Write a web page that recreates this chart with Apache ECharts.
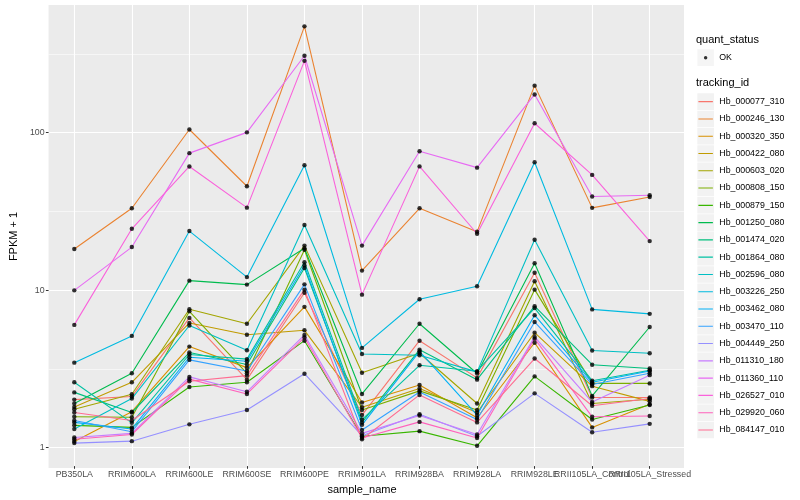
<!DOCTYPE html>
<html>
<head>
<meta charset="utf-8">
<script src="https://cdn.jsdelivr.net/npm/echarts@6/dist/echarts.min.js"></script>
<style>html,body{margin:0;padding:0;background:#fff}#c{width:800px;height:500px}</style>
</head>
<body>
<div id="c"></div>
<script>
const categories = ['PB350LA','RRIM600LA','RRIM600LE','RRIM600SE','RRIM600PE','RRIM901LA','RRIM928BA','RRIM928LA','RRIM928LE','RRII105LA_Control','RRII105LA_Stressed'];

const Hb_000077_310 = [1.97, 2.06, 6.54, 2.64, 9.45, 1.57, 4.68, 2.71, 12.7, 2.03, 2.03];
const Hb_000246_130 = [18.0, 32.7, 104, 45.2, 473, 13.1, 32.7, 23.2, 198, 32.9, 38.6];
const Hb_000320_350 = [1.065, 1.65, 4.29, 3.15, 7.69, 1.89, 2.44, 1.51, 4.54, 1.31, 1.84];
const Hb_000422_080 = [1.77, 2.54, 6.07, 5.11, 5.45, 1.76, 2.32, 1.63, 5.26, 2.4, 1.92];
const Hb_000603_020 = [1.71, 2.13, 7.42, 6.0, 18.9, 2.92, 3.89, 1.86, 11.2, 1.86, 1.98];
const Hb_000808_150 = [1.53, 1.52, 7.2, 2.90, 17.8, 1.69, 2.24, 1.69, 9.9, 2.5, 2.50];
const Hb_000879_150 = [1.35, 1.31, 2.37, 2.54, 4.68, 1.15, 1.24, 1.00, 2.77, 1.47, 1.82];
const Hb_001250_080 = [1.86, 2.9, 11.3, 10.66, 18.2, 2.14, 6.0, 2.89, 14.6, 2.08, 5.72];
const Hb_001474_020 = [2.19, 1.63, 3.93, 3.3, 13.6, 1.41, 4.1, 2.64, 7.77, 3.29, 3.11];
const Hb_001864_080 = [2.54, 1.40, 3.82, 3.57, 14.8, 1.47, 3.26, 2.99, 7.55, 2.60, 3.03];
const Hb_002596_080 = [1.28, 2.0, 5.85, 4.07, 25.6, 3.85, 3.78, 2.96, 20.6, 4.05, 3.89];
const Hb_003226_250 = [3.39, 5.02, 23.4, 11.9, 61.5, 4.21, 8.6, 10.4, 64.3, 7.41, 6.94];
const Hb_003462_080 = [1.41, 1.28, 3.67, 3.46, 14.1, 1.36, 4.0, 1.57, 6.8, 2.54, 3.0];
const Hb_003470_110 = [1.45, 1.23, 3.53, 3.0, 10.7, 1.26, 2.2, 1.47, 6.16, 2.46, 2.9];
const Hb_004449_250 = [1.04, 1.07, 1.37, 1.69, 2.88, 1.16, 1.59, 1.15, 2.16, 1.22, 1.38];
const Hb_011310_180 = [1.13, 1.20, 2.75, 2.21, 5.09, 1.20, 1.56, 1.18, 4.95, 1.9, 2.82];
const Hb_011360_110 = [9.8, 18.5, 73.5, 99.7, 307, 18.9, 75.5, 59.4, 174, 38.9, 39.6];
const Hb_026527_010 = [5.9, 24.2, 60.4, 33.0, 285, 9.2, 60.5, 22.5, 114, 53.4, 20.2];
const Hb_029920_060 = [1.10, 1.18, 2.66, 2.14, 4.91, 1.12, 1.42, 1.12, 4.82, 1.53, 1.55];
const Hb_084147_010 = [1.63, 1.45, 2.58, 2.80, 9.9, 1.10, 2.11, 1.41, 3.6, 1.80, 2.0];

const trackingIds = ['Hb_000077_310','Hb_000246_130','Hb_000320_350','Hb_000422_080','Hb_000603_020','Hb_000808_150','Hb_000879_150','Hb_001250_080','Hb_001474_020','Hb_001864_080','Hb_002596_080','Hb_003226_250','Hb_003462_080','Hb_003470_110','Hb_004449_250','Hb_011310_180','Hb_011360_110','Hb_026527_010','Hb_029920_060','Hb_084147_010'];
const seriesValues = [Hb_000077_310,Hb_000246_130,Hb_000320_350,Hb_000422_080,Hb_000603_020,Hb_000808_150,Hb_000879_150,Hb_001250_080,Hb_001474_020,Hb_001864_080,Hb_002596_080,Hb_003226_250,Hb_003462_080,Hb_003470_110,Hb_004449_250,Hb_011310_180,Hb_011360_110,Hb_026527_010,Hb_029920_060,Hb_084147_010];
const colors = ['#F8766D','#EA8331','#D89000','#C09B00','#A3A500','#7CAE00','#39B600','#00BB4E','#00BF7D','#00C1A3','#00BFC4','#00BAE0','#00B0F6','#35A2FF','#9590FF','#C77CFF','#E76BF3','#FA62DB','#FF62BC','#FF6C91'];

const majorBreaks = [1, 10, 100];
const minorBreaks = [3.162, 31.62, 316.2];
const yMin = 0.742, yMax = 647;

const FONT = 'Liberation Sans, Arial, sans-serif';

const series = trackingIds.map((id, k) => ({
  name: id,
  type: 'line',
  xAxisIndex: 1,
  yAxisIndex: 2,
  data: seriesValues[k],
  showSymbol: false,
  symbol: 'none',
  color: colors[k],
  lineStyle: { width: 1.1, color: colors[k] },
  emphasis: { disabled: true },
  z: 3
}));

const okPoints = [];
seriesValues.forEach(vals => vals.forEach((v, i) => okPoints.push([i, v])));
series.push({
  name: 'OK',
  type: 'scatter',
  xAxisIndex: 1,
  yAxisIndex: 2,
  data: okPoints,
  symbol: 'circle',
  symbolSize: 4.4,
  color: '#000',
  itemStyle: { color: '#000' },
  emphasis: { disabled: true },
  z: 5
});

const keyBg = 'path://M0,0L0.01,0Z M0.35,0.35L16.93,0.35L16.93,16.93L0.35,16.93Z M17.28,17.28L17.27,17.28Z';
const keyLine = 'path://M0,0L0.01,0Z M1.4,8.1L15.88,8.1L15.88,9.2L1.4,9.2Z M17.28,17.28L17.27,17.28Z';
const keyDot = 'path://M0,0L0.01,0Z M6.9,8.64A1.74,1.74,0,1,1,10.38,8.64A1.74,1.74,0,1,1,6.9,8.64Z M17.28,17.28L17.27,17.28Z';

const legendText = { fontSize: 8.8, color: '#000', fontFamily: FONT };
const hiddenText = Object.assign({}, legendText, { color: 'rgba(0,0,0,0)' });

function keyLegend(names, top, icon, itemStyle, textStyle, z) {
  return { data: names, left: 697, top: top, orient: 'vertical', padding: 0, itemGap: 0,
    itemWidth: 17.28, itemHeight: 17.28, icon: icon, selectedMode: false,
    itemStyle: itemStyle, lineStyle: { width: 0 }, textStyle: textStyle, z: z };
}

const option = {
  animation: false,
  backgroundColor: '#fff',
  textStyle: { fontFamily: FONT },
  title: [
    { text: 'quant_status', left: 696, top: 34, padding: 0, textStyle: { fontSize: 11, fontWeight: 'normal', color: '#000', fontFamily: FONT } },
    { text: 'tracking_id', left: 696, top: 77.5, padding: 0, textStyle: { fontSize: 11, fontWeight: 'normal', color: '#000', fontFamily: FONT } }
  ],
  legend: [
    keyLegend(['OK'], 49, keyBg, { color: '#F2F2F2', borderWidth: 0 }, hiddenText, 1),
    keyLegend(['OK'], 49, keyDot, { color: '#000', borderWidth: 0 }, legendText, 2),
    keyLegend(trackingIds, 93, keyBg, { color: '#F2F2F2', borderWidth: 0 }, hiddenText, 1),
    keyLegend(trackingIds, 93, keyLine, { borderWidth: 0 }, legendText, 2)
  ],
  grid: [
    { left: 40, top: 5, width: 644, height: 463, show: true, backgroundColor: '#EBEBEB', borderWidth: 0, containLabel: false },
    { left: 74.3, top: 5, width: 575.4, height: 463, show: false, containLabel: false }
  ],
  xAxis: [
    { gridIndex: 0, type: 'value', min: 0, max: 1, show: false },
    { gridIndex: 1, type: 'category', data: categories, boundaryGap: false,
      axisLine: { show: false },
      axisTick: { show: true, length: 2.7, lineStyle: { color: '#333', width: 1 } },
      axisLabel: { interval: 0, fontSize: 8.8, color: '#4D4D4D', margin: 4, fontFamily: FONT, hideOverlap: false },
      splitLine: { show: true, lineStyle: { color: '#fff', width: 1.1 } },
      name: 'sample_name', nameLocation: 'middle', nameGap: 14.5,
      nameTextStyle: { fontSize: 11, color: '#000', fontFamily: FONT } }
  ],
  yAxis: [
    { gridIndex: 0, type: 'log', logBase: 10, min: yMin, max: yMax,
      axisLine: { show: false },
      axisTick: { show: true, length: 2.7, lineStyle: { color: '#333', width: 1 }, customValues: majorBreaks },
      axisLabel: { fontSize: 8.8, color: '#4D4D4D', margin: 4, fontFamily: FONT, customValues: majorBreaks,
        formatter: v => (majorBreaks.indexOf(Math.round(v * 1000) / 1000) >= 0 ? String(Math.round(v)) : '') },
      splitLine: { show: true, lineStyle: { color: '#fff', width: 1.1 } },
      name: 'FPKM + 1', nameLocation: 'middle', nameGap: 22,
      nameTextStyle: { fontSize: 11, color: '#000', fontFamily: FONT } },
    { gridIndex: 0, type: 'log', logBase: 10, min: yMin, max: yMax,
      axisLine: { show: false },
      axisTick: { show: false, customValues: minorBreaks },
      axisLabel: { show: false, customValues: minorBreaks },
      splitLine: { show: true, lineStyle: { color: '#fff', width: 0.55 } } },
    { gridIndex: 1, type: 'log', logBase: 10, min: yMin, max: yMax, show: false,
      splitLine: { show: false } }
  ],
  series: series
};

const chart = echarts.init(document.getElementById('c'), null, { renderer: 'canvas' });
chart.setOption(option);
</script>
</body>
</html>
